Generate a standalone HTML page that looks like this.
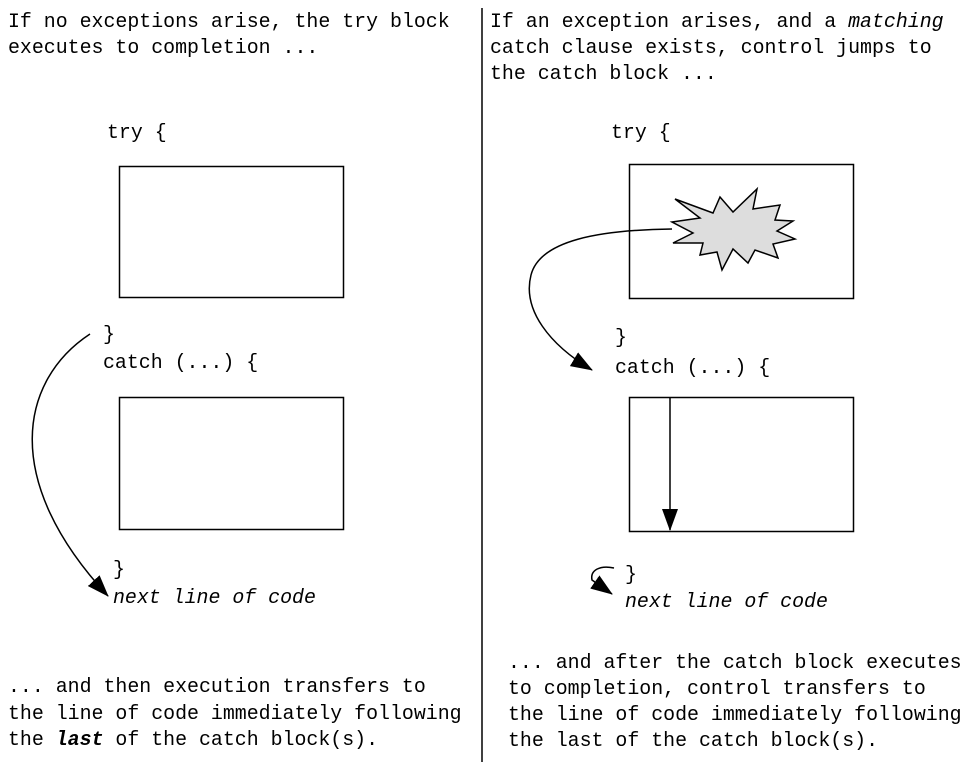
<!DOCTYPE html>
<html><head><style>html,body{margin:0;padding:0;background:#fff;}svg{display:block}</style></head>
<body>
<svg width="970" height="768" viewBox="0 0 970 768" xmlns="http://www.w3.org/2000/svg">
<defs>
<marker id="ahb" markerWidth="22" markerHeight="16" refX="21" refY="8" orient="auto" markerUnits="userSpaceOnUse" viewBox="0 0 22 16">
<path d="M0,0 L22,8 L0,16 z" fill="#000"/>
</marker>
</defs>
<g font-family="Liberation Mono, monospace" font-size="19.9" fill="#000">
<text x="8" y="27">If no exceptions arise, the try block</text>
<text x="8" y="53">executes to completion ...</text>
<text x="490" y="27">If an exception arises, and a <tspan font-style="italic">matching</tspan></text>
<text x="490" y="53">catch clause exists, control jumps to</text>
<text x="490" y="79">the catch block ...</text>
<text x="107" y="138">try {</text>
<text x="103" y="340">}</text>
<text x="103" y="368">catch (...) {</text>
<text x="113" y="575">}</text>
<text x="113" y="603" font-style="italic">next line of code</text>
<text x="8" y="692">... and then execution transfers to</text>
<text x="8" y="719">the line of code immediately following</text>
<text x="8" y="745">the <tspan font-weight="bold" font-style="italic">last</tspan> of the catch block(s).</text>
<text x="611" y="138">try {</text>
<text x="615" y="343">}</text>
<text x="615" y="373">catch (...) {</text>
<text x="625" y="580">}</text>
<text x="625" y="607" font-style="italic">next line of code</text>
<text x="508" y="668">... and after the catch block executes</text>
<text x="508" y="694">to completion, control transfers to</text>
<text x="508" y="720">the line of code immediately following</text>
<text x="508" y="746">the last of the catch block(s).</text>
</g>
<line x1="482" y1="8" x2="482" y2="762" stroke="#000" stroke-width="1.5"/>
<g fill="none" stroke="#000" stroke-width="1.5">
<rect x="119.5" y="166.5" width="224" height="131"/>
<rect x="119.5" y="397.5" width="224" height="132"/>
<rect x="629.5" y="164.5" width="224" height="134"/>
<rect x="629.5" y="397.5" width="224" height="134"/>
</g>
<polygon points="672,222 700,218 675,199 713,213 720,197 733,212 757,189 753,209 780,205 775,220 793,221 777,231 795,239 773,244 778,258 755,250 748,263 733,249 722,270 717,252 700,255 703,243 673,243 693,233" fill="#ddd" stroke="#000" stroke-width="1.5"/>
<g fill="none" stroke="#000" stroke-width="1.5">
<path d="M672,229 C600,230 540,240 531,275 C522,310 550,345 592,370" marker-end="url(#ahb)"/>
<path d="M90,334 C20,380 0,480 108,596" marker-end="url(#ahb)"/>
<line x1="670" y1="398" x2="670" y2="530" marker-end="url(#ahb)"/>
<path d="M614,568 C600,565 590,570 592,580 L612,594" marker-end="url(#ahb)"/>
</g>
</svg>
</body></html>
